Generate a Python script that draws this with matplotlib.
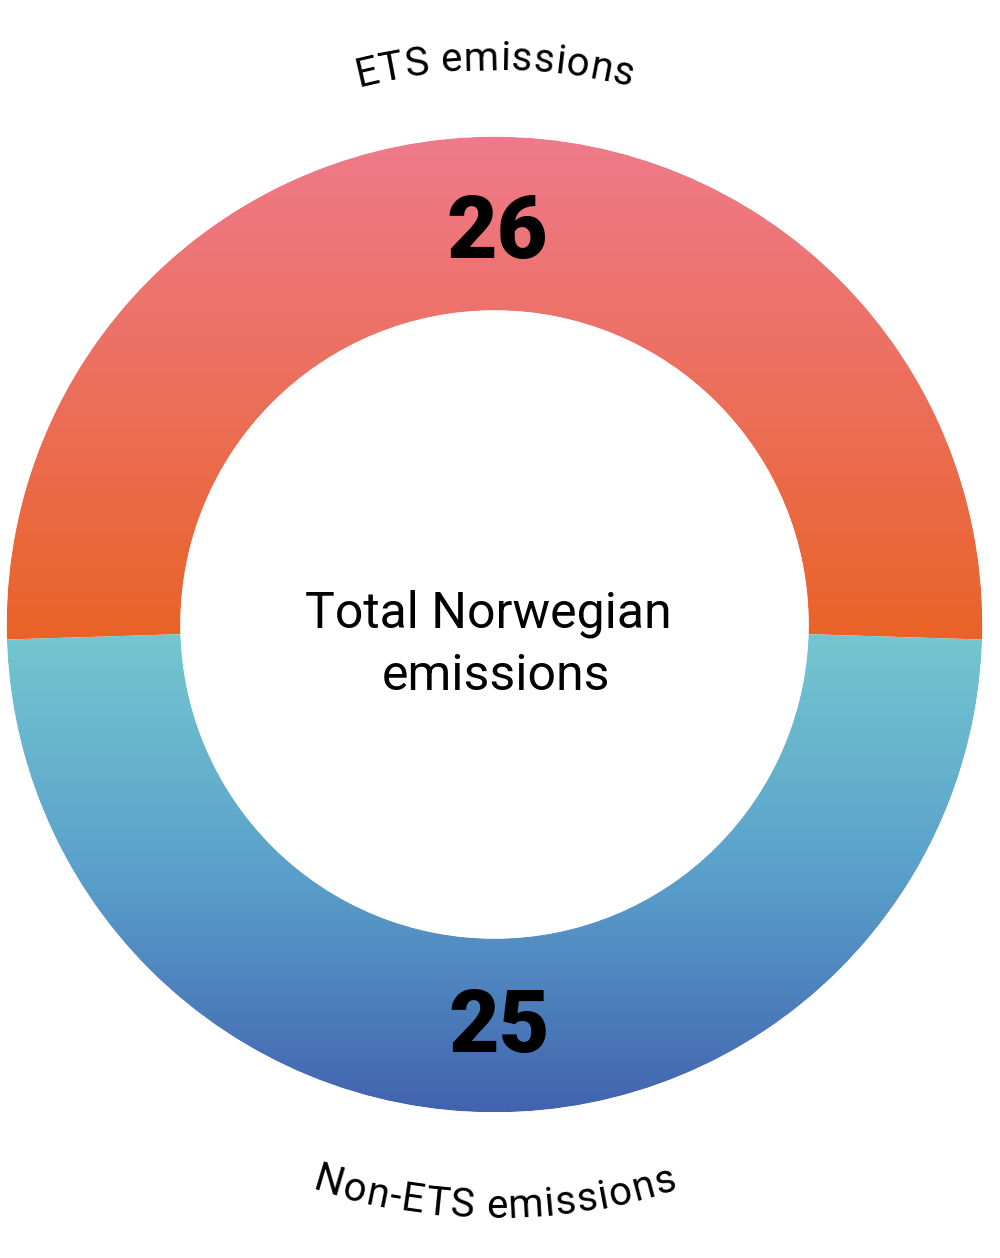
import matplotlib
matplotlib.use("Agg")
import matplotlib.pyplot as plt
import numpy as np
from matplotlib.patches import Wedge, Circle
from matplotlib.colors import LinearSegmentedColormap
from matplotlib.font_manager import FontProperties

# Data
categories = ["ETS emissions", "Non-ETS emissions"]
values = [26, 25]
center_lines = ["Total Norwegian", "emissions"]

# Layout (pixels, y up)
W, H = 1000, 1258
CX, CY = 494.5, H - 624.5
R_OUT, R_IN = 488, 314
FONT = ["Roboto", "DejaVu Sans"]

# gradient stops, bottom -> top of each segment
top_colors = ["#E96327", "#EC6F5C", "#EF7A8B"]
bottom_colors = ["#4263AF", "#5AA0CB", "#74C7D0"]

fig = plt.figure(figsize=(W / 100, H / 100), dpi=100)
ax = fig.add_axes([0, 0, 1, 1])
ax.set_xlim(0, W)
ax.set_ylim(0, H)
ax.axis("off")

total = sum(values)
span_top = 360 * values[0] / total
t1 = 90 - span_top / 2
t2 = 90 + span_top / 2
segments = [(t1, t2, top_colors), (t2, t1 + 360, bottom_colors)]

for th1, th2, cols in segments:
    w = Wedge((CX, CY), R_OUT, th1, th2, width=R_OUT - R_IN,
              facecolor="none", edgecolor="none")
    ax.add_patch(w)
    ang = np.radians(np.linspace(th1, th2, 400))
    ys = np.concatenate([CY + R_OUT * np.sin(ang), CY + R_IN * np.sin(ang)])
    grad = np.linspace(0, 1, 512).reshape(-1, 1)
    cmap = LinearSegmentedColormap.from_list("g", cols)
    im = ax.imshow(grad, cmap=cmap, origin="lower", aspect="auto",
                   extent=[CX - R_OUT - 2, CX + R_OUT + 2, ys.min(), ys.max()],
                   interpolation="bilinear")
    im.set_clip_path(w)

# soften the clipped edges
for r in (R_OUT + 0.4, R_IN - 0.4):
    ax.add_patch(Circle((CX, CY), r, facecolor="none", edgecolor="white",
                        linewidth=0.9, antialiased=True))

ax.set_xlim(0, W)
ax.set_ylim(0, H)

# numbers
ax.text(497, H - 258, str(values[0]), ha="center", va="baseline",
        fontsize=63, fontweight="black", family=FONT, color="black")
ax.text(499, H - 1052, str(values[1]), ha="center", va="baseline",
        fontsize=63, fontweight="black", family=FONT, color="black")

# centre label
ax.text(488.5, H - 628, center_lines[0], ha="center", va="baseline",
        fontsize=36, family=FONT, color="black")
ax.text(496, H - 690, center_lines[1], ha="center", va="baseline",
        fontsize=36, family=FONT, color="black")

renderer = fig.canvas.get_renderer()


def curved_text(text, radius, center_deg, size, track, outside=True):
    prop = FontProperties(family=FONT, size=size)

    def width(s):
        return renderer.get_text_width_height_descent(s, prop, ismath=False)[0]

    n = len(text)
    full = width(text) + track * (n - 1)
    for i, ch in enumerate(text):
        if ch == " ":
            continue
        right = width(text[:i + 1]) + track * i
        pos = right - width(ch) / 2 - full / 2
        d = np.degrees(pos / radius)
        if outside:
            phi = center_deg - d
            rot = phi - 90
        else:
            phi = center_deg + d
            rot = phi - 270
        x = CX + radius * np.cos(np.radians(phi))
        y = CY + radius * np.sin(np.radians(phi))
        ax.text(x, y, ch, ha="center", va="baseline", rotation=rot,
                rotation_mode="anchor", fontproperties=prop, color="black")


curved_text(categories[0], 554.5, 90, 29, 0.9, outside=True)
curved_text(categories[1], 593.5, 270, 29, 1.4, outside=False)

fig.savefig("out.png", dpi=100, facecolor="white")
